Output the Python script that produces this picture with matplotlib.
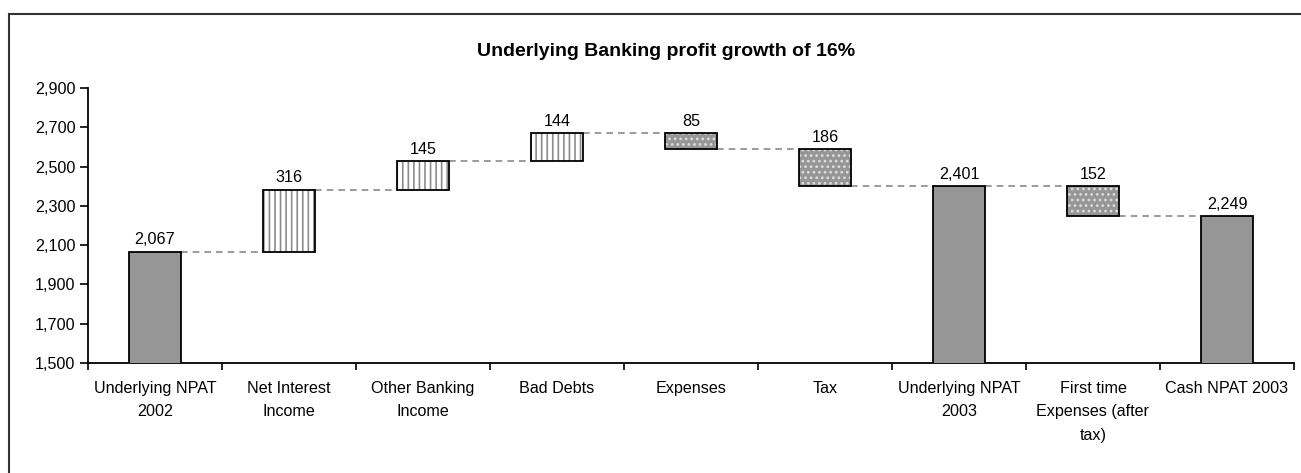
import matplotlib
matplotlib.use('Agg')
import matplotlib.pyplot as plt
from matplotlib.patches import Rectangle
from matplotlib.ticker import FuncFormatter

# Data
categories = ['Underlying NPAT\n2002', 'Net Interest\nIncome', 'Other Banking\nIncome',
              'Bad Debts', 'Expenses', 'Tax', 'Underlying NPAT\n2003',
              'First time\nExpenses (after\ntax)', 'Cash NPAT 2003']
changes = [2067, 316, 145, 144, -85, -186, 2401, -152, 2249]
kinds = ['total', 'up', 'up', 'up', 'down', 'down', 'total', 'down', 'total']
y_ticks = [1500, 1700, 1900, 2100, 2300, 2500, 2700, 2900]

plt.rcParams['font.family'] = ['Liberation Sans', 'DejaVu Sans']
plt.rcParams['hatch.linewidth'] = 1.2

fig = plt.figure(figsize=(13.01, 4.73), dpi=100)
ax = fig.add_axes([88 / 1301, 1 - 363 / 473, (1294 - 88) / 1301, (363 - 88) / 473])

gray = '#969696'
width = 0.39
running = 0
for i, (val, kind) in enumerate(zip(changes, kinds)):
    if kind == 'total':
        bottom, height = 0, val
        top = val
        level = val
        ax.bar(i, height, bottom=bottom, width=width, color=gray,
               edgecolor='black', linewidth=1.3, zorder=3)
    elif kind == 'up':
        bottom, height = running, val
        top = running + val
        level = top
        ax.bar(i, height, bottom=bottom, width=width, color='white',
               edgecolor='#8c8c8c', hatch='|||', linewidth=0, zorder=3)
        ax.bar(i, height, bottom=bottom, width=width, fill=False,
               edgecolor='black', linewidth=1.3, zorder=4)
    else:
        bottom, height = running + val, -val
        top = running
        level = running + val
        ax.bar(i, height, bottom=bottom, width=width, color=gray,
               edgecolor='#dcdcdc', hatch='...', linewidth=0, zorder=3)
        ax.bar(i, height, bottom=bottom, width=width, fill=False,
               edgecolor='black', linewidth=1.3, zorder=4)
    label = f'{abs(val):,}'
    ax.annotate(label, (i, top), xytext=(0, 3), textcoords='offset points',
                ha='center', va='bottom', fontsize=11.6, zorder=5)
    # dashed connector from this bar to the next
    if i < len(changes) - 1:
        ax.plot([i + width / 2, i + 1 - width / 2], [level, level],
                color='#8a8a8a', linestyle=(0, (4, 3)), linewidth=1.2, zorder=2)
    running = level

ax.set_xlim(-0.5, len(categories) - 0.5)
ax.set_ylim(1500, 2900)
ax.set_yticks(y_ticks)
ax.yaxis.set_major_formatter(FuncFormatter(lambda v, p: f'{int(v):,}'))
ax.set_xticks([i + 0.5 for i in range(-1, len(categories))], minor=False)
ax.set_xticklabels([])
ax.set_xticks(range(len(categories)), minor=True)
ax.set_xticklabels(categories, minor=True, fontsize=11.6, linespacing=1.7, va='top')
ax.tick_params(axis='x', which='minor', length=0, pad=13)
ax.tick_params(axis='x', which='major', length=5, width=1.2, direction='out')
ax.tick_params(axis='y', length=6, width=1.2, labelsize=11.6, pad=3)

for side in ['top', 'right']:
    ax.spines[side].set_visible(False)
for side in ['left', 'bottom']:
    ax.spines[side].set_linewidth(1.3)
    ax.spines[side].set_color('black')

fig.text(666 / 1301, 1 - 52 / 473, 'Underlying Banking profit growth of 16%',
         ha='center', va='center', fontsize=14, fontweight='bold',
         family=['Liberation Sans Narrow', 'Liberation Sans'])

# outer chart frame (cut off at right and bottom like the reference)
fig.patches.append(Rectangle((9 / 1301, -0.05), 1.1, 1 - 14 / 473 + 0.05,
                             transform=fig.transFigure, fill=False,
                             edgecolor='#333333', linewidth=1.5))

fig.savefig('out.png', dpi=100)
